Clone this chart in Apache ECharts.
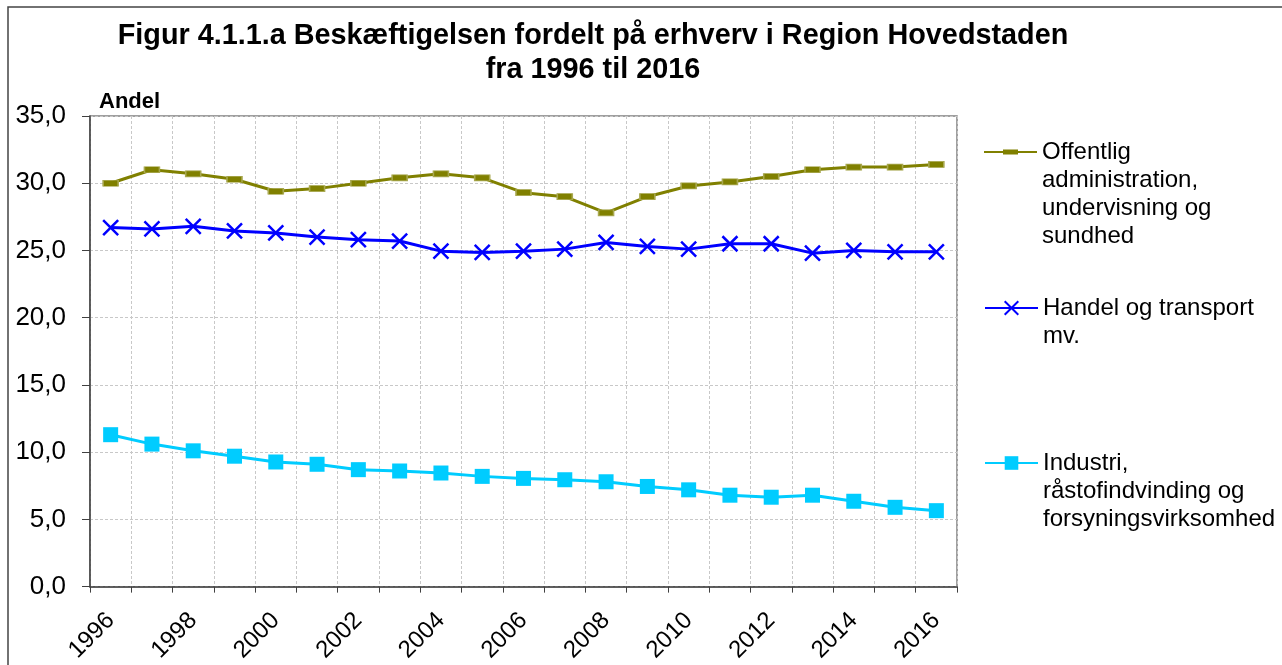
<!DOCTYPE html>
<html><head><meta charset="utf-8">
<script src="https://cdn.jsdelivr.net/npm/echarts@6/dist/echarts.min.js"></script>
<style>html,body{margin:0;padding:0;background:#fff}#c{width:1282px;height:665px}</style>
</head><body><div id="c"></div>
<script>
const years = ['1996','1997','1998','1999','2000','2001','2002','2003','2004','2005','2006','2007','2008','2009','2010','2011','2012','2013','2014','2015','2016'];
const offentlig = [30.0,31.0,30.7,30.3,29.4,29.6,30.0,30.4,30.7,30.4,29.3,29.0,27.8,29.0,29.8,30.1,30.5,31.0,31.2,31.2,31.4];
const handel = [26.7,26.6,26.8,26.45,26.3,26.0,25.8,25.7,24.95,24.85,24.95,25.1,25.6,25.3,25.1,25.5,25.5,24.8,25.0,24.9,24.9];
const industri = [11.3,10.6,10.1,9.7,9.27,9.1,8.7,8.6,8.45,8.2,8.05,7.95,7.8,7.45,7.2,6.8,6.65,6.8,6.35,5.9,5.65];
const names = ['Offentlig\nadministration,\nundervisning og\nsundhed','Handel og transport\nmv.','Industri,\nråstofindvinding og\nforsyningsvirksomhed'];
const titleText = 'Figur 4.1.1.a Beskæftigelsen fordelt på erhverv i Region Hovedstaden\nfra 1996 til 2016';

const FONT = "'Liberation Sans', Arial, sans-serif";
const LH = 28;
const IH = 17;
function legendFor(name, cy, icon) {
  const n = name.split('\n').length;
  const item = icon ? {name: name, icon: icon, itemStyle: {color: '#808000', borderWidth: 0, borderColor: 'rgba(0,0,0,0)'}} : name;
  return {
    data: [item], left: 984, top: cy - (2 * n - 1) * LH / 2, padding: 0, orient: 'vertical',
    itemWidth: 53, itemHeight: IH, itemGap: 0, selectedMode: false,
    lineStyle: {width: 2},
    formatter: nm => '\u00a0\n'.repeat(n - 1) + nm,
    textStyle: {fontFamily: FONT, fontSize: 24, color: '#000', lineHeight: LH}
  };
}
const oliveIcon = 'path://M0,0L0.01,0L0.01,0.01ZM0,7.5H53V9.5H0ZM19,6H34V11H19ZM53,17L52.99,17L52.99,16.99Z';

const chart = echarts.init(document.getElementById('c'));
chart.setOption({
  animation: false,
  backgroundColor: '#fff',
  title: {
    text: titleText, left: 588, top: 14, textAlign: 'center',
    textStyle: {fontFamily: FONT, fontSize: 28.8, fontWeight: 'bold', color: '#000', lineHeight: 34}
  },
  graphic: [{type: 'rect', shape: {x: 8, y: 7, width: 1400, height: 800}, style: {fill: 'none', stroke: '#444', lineWidth: 1.5}, silent: true}],
  legend: [legendFor(names[0], 152, oliveIcon), legendFor(names[1], 308), legendFor(names[2], 463)],
  grid: {left: 90, top: 116, right: 325, bottom: 78, show: true, borderColor: '#808080', borderWidth: 1.5},
  xAxis: {
    type: 'category', data: years, boundaryGap: true,
    axisLine: {lineStyle: {color: '#404040', width: 1.5}},
    axisTick: {show: true, interval: 0, length: 6, lineStyle: {color: '#404040'}},
    axisLabel: {interval: 1, rotate: 45, margin: 30, fontFamily: FONT, fontSize: 24, color: '#000'},
    splitLine: {show: true, interval: 0, lineStyle: {color: '#c8c8c8', type: [3, 2], width: 1}}
  },
  yAxis: {
    type: 'value', min: 0, max: 35, interval: 5,
    name: 'Andel', nameLocation: 'end', nameGap: 3,
    nameTextStyle: {fontFamily: FONT, fontSize: 22, fontWeight: 'bold', color: '#000', align: 'left', padding: [0, 0, 0, 9]},
    axisLine: {show: true, lineStyle: {color: '#404040', width: 1.5}},
    axisTick: {show: true, length: 8, lineStyle: {color: '#404040'}},
    axisLabel: {margin: 24, fontFamily: FONT, fontSize: 26, color: '#000', formatter: v => v.toFixed(1).replace('.', ',')},
    splitLine: {show: true, lineStyle: {color: '#c8c8c8', type: [3, 2], width: 1}}
  },
  series: [
    {name: names[0], type: 'line', data: offentlig, symbol: 'rect', symbolSize: [15, 6],
     lineStyle: {color: '#808000', width: 3}, itemStyle: {color: '#808000', borderColor: '#a8a850', borderWidth: 1}},
    {name: names[1], type: 'line', data: handel, symbol: 'path://M0,0L10,10M10,0L0,10', symbolSize: 15,
     lineStyle: {color: '#0000ff', width: 3}, itemStyle: {color: 'rgba(0,0,0,0)', borderColor: '#0000ff', borderWidth: 2.5}},
    {name: names[2], type: 'line', data: industri, symbol: 'rect', symbolSize: 15,
     lineStyle: {color: '#00ccff', width: 3}, itemStyle: {color: '#00ccff'}}
  ]
});
</script></body></html>
